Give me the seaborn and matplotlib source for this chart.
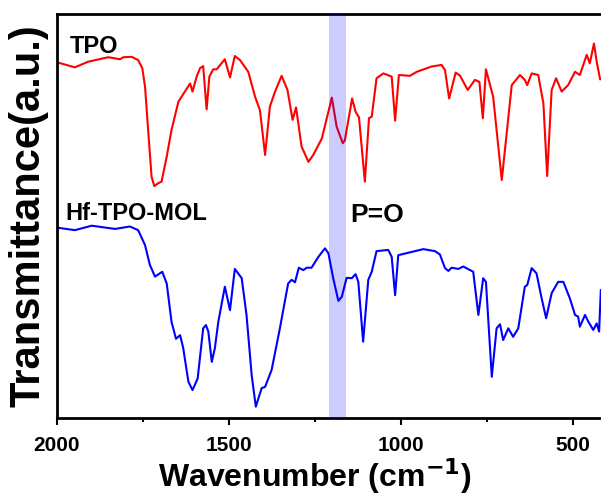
import matplotlib
matplotlib.use("Agg")
import matplotlib.pyplot as plt
import seaborn as sns
import pandas as pd
from matplotlib.ticker import MultipleLocator

# ---- data ----
tpo_wn = [1998, 1948, 1909, 1851, 1817, 1807, 1783, 1764, 1752, 1744, 1735, 1725, 1717, 1706,
          1696, 1681, 1667, 1647, 1613, 1606, 1594, 1584, 1575, 1565, 1557, 1546, 1536, 1512,
          1497, 1483, 1468, 1444, 1424, 1410, 1395, 1381, 1366, 1347, 1330, 1315, 1305, 1289,
          1269, 1255, 1230, 1201, 1187, 1169, 1163, 1142, 1132, 1122, 1105, 1093, 1085, 1071,
          1051, 1027, 1017, 1006, 974, 954, 911, 882, 872, 860, 841, 828, 806, 785, 772, 762,
          753, 732, 707, 678, 654, 640, 633, 620, 601, 586, 575, 562, 549, 533, 514, 494, 480,
          460, 451, 439, 431, 421]
tpo_t = [88.0, 86.8, 88.2, 89.3, 88.8, 89.3, 89.4, 88.6, 86.6, 82.0, 71.3, 59.7, 57.4, 58.1,
         58.5, 64.7, 71.3, 78.3, 82.8, 80.8, 84.5, 86.6, 87.1, 76.4, 84.5, 86.3, 86.3, 88.8,
         84.3, 89.6, 88.6, 85.7, 79.5, 76.2, 65.1, 77.1, 80.8, 84.7, 81.2, 73.8, 76.9, 67.2,
         63.4, 65.1, 69.2, 79.3, 72.1, 68.0, 68.8, 79.1, 75.8, 74.4, 58.5, 74.2, 74.6, 84.1,
         85.3, 84.5, 73.6, 84.9, 84.7, 85.7, 87.0, 87.4, 86.1, 79.1, 85.5, 84.7, 81.2, 83.7,
         83.2, 74.2, 86.3, 79.5, 58.9, 82.4, 84.9, 83.7, 82.4, 85.3, 84.9, 77.9, 59.9, 81.2,
         84.1, 80.8, 82.4, 85.7, 84.9, 89.9, 87.8, 92.7, 88.2, 83.8]

mol_wn = [1998, 1948, 1899, 1831, 1788, 1764, 1744, 1730, 1715, 1694, 1681, 1667, 1654, 1642,
          1633, 1618, 1606, 1591, 1575, 1567, 1560, 1550, 1541, 1531, 1512, 1497, 1483, 1463,
          1449, 1434, 1422, 1405, 1395, 1376, 1352, 1328, 1318, 1308, 1297, 1284, 1274, 1260,
          1240, 1221, 1211, 1197, 1182, 1172, 1158, 1143, 1132, 1124, 1110, 1095, 1085, 1071,
          1037, 1027, 1017, 1008, 974, 935, 901, 887, 872, 862, 853, 833, 819, 799, 790, 775,
          761, 753, 736, 722, 712, 703, 688, 674, 659, 640, 633, 620, 606, 591, 578, 562, 543,
          528, 509, 494, 485, 480, 465, 455, 441, 431, 424, 419]
mol_t = [47.1, 46.5, 47.6, 46.8, 47.4, 46.5, 42.8, 37.9, 35.0, 36.2, 33.3, 23.8, 19.6, 20.5,
         17.3, 9.0, 6.9, 9.8, 22.2, 23.0, 21.4, 13.9, 17.3, 23.8, 32.5, 26.7, 36.9, 34.6,
         25.5, 10.6, 2.8, 7.4, 7.7, 11.9, 22.2, 33.3, 34.2, 33.6, 37.2, 36.6, 37.2, 37.2,
         39.9, 42.0, 40.8, 34.6, 29.0, 30.0, 34.7, 34.6, 35.6, 33.7, 18.9, 34.2, 36.2, 41.3,
         41.6, 39.9, 30.4, 40.3, 41.0, 41.8, 41.3, 40.5, 37.1, 36.4, 37.2, 36.9, 37.5, 36.6,
         36.2, 25.5, 34.6, 33.7, 10.2, 22.2, 23.2, 19.3, 22.2, 20.1, 22.2, 32.5, 32.9, 37.1,
         35.8, 29.6, 24.7, 30.9, 33.7, 33.7, 29.6, 25.5, 25.1, 22.6, 25.5, 23.8, 21.8, 23.4,
         21.4, 31.7]

band = [1209, 1160]
x_ticks = [2000, 1500, 1000, 500]
labels = ["TPO", "Hf-TPO-MOL", "P=O"]

df_tpo = pd.DataFrame({"wn": tpo_wn, "T": tpo_t})
df_mol = pd.DataFrame({"wn": mol_wn, "T": mol_t})

sns.set_style("ticks")
plt.rcParams["font.family"] = ["Liberation Sans", "DejaVu Sans"]
plt.rcParams["font.weight"] = "bold"
plt.rcParams["text.color"] = "black"
plt.rcParams["axes.labelcolor"] = "black"
plt.rcParams["xtick.color"] = "black"
plt.rcParams["ytick.color"] = "black"

fig = plt.figure(figsize=(6.01, 5.0), dpi=100)
ax = fig.add_axes([0.0948, 0.164, 0.9158, 0.808])

sns.lineplot(data=df_tpo, x="wn", y="T", color="#ff0000", linewidth=1.5, ax=ax, sort=False)
sns.lineplot(data=df_mol, x="wn", y="T", color="#0000ff", linewidth=1.5, ax=ax, sort=False)
ax.axvspan(band[0], band[1], color="#0000ff", alpha=0.2, lw=0, zorder=3)

ax.set_xlim(2000, 400)
ax.set_ylim(0, 100)
ax.set_xticks(x_ticks)
ax.xaxis.set_minor_locator(MultipleLocator(250))
ax.set_yticks([])
ax.tick_params(axis="x", which="major", direction="out", length=5, width=1.5,
               labelsize=15, pad=8, colors="black")
ax.tick_params(axis="x", which="minor", direction="out", length=3, width=1.5, colors="black")
for lab in ax.get_xticklabels():
    lab.set_fontweight("bold")
for s in ax.spines.values():
    s.set_linewidth(2)
    s.set_color("black")

ax.set_xlabel("Wavenumber (cm$^{\\mathbf{-1}}$)", fontsize=23, fontweight="bold",
              color="black")
ax.xaxis.label.set_va("baseline")
ax.xaxis.set_label_coords(0.469, -0.170)
ax.set_ylabel("Transmittance(a.u.)", fontsize=30, fontweight="bold", labelpad=6,
              color="black")

ax.text(1962, 90.3, labels[0], fontsize=17, fontweight="bold", va="baseline", color="black")
ax.text(1977, 49.0, labels[1], fontsize=17, fontweight="bold", va="baseline", color="black")
ax.text(1148, 48.5, labels[2], fontsize=19, fontweight="bold", va="baseline", color="black")

fig.savefig("out.png", dpi=100)
